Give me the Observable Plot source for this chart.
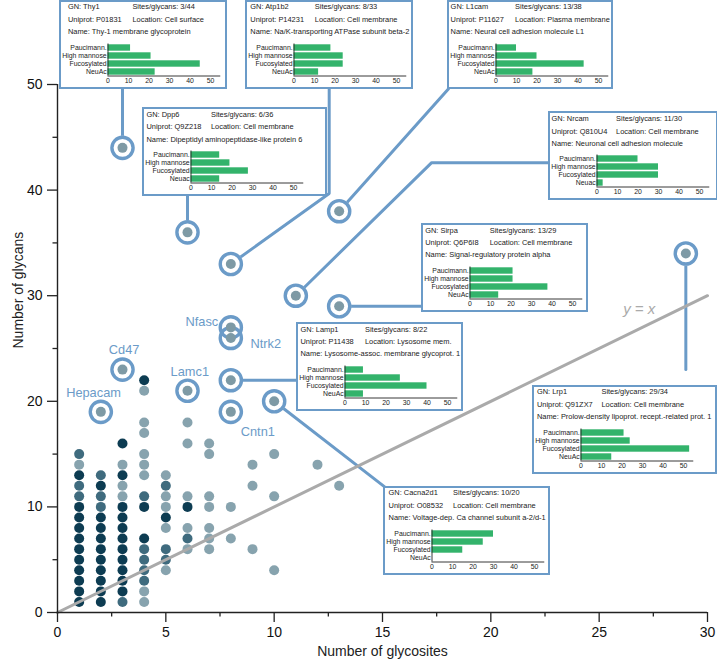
<!DOCTYPE html>
<html><head><meta charset="utf-8">
<script src="https://cdn.jsdelivr.net/npm/d3@7"></script>
<script src="https://cdn.jsdelivr.net/npm/@observablehq/plot@0.6"></script>
<style>
body{margin:0;background:#fff;font-family:"Liberation Sans",Arial,sans-serif;}
#wrap{position:relative;width:717px;height:665px;overflow:hidden;}
.inset{position:absolute;background:#fff;border:2px solid #6b9bc8;box-sizing:border-box;}
.inset .t{position:absolute;font-size:7.45px;color:#222;white-space:nowrap;line-height:1;}
.inset svg{position:absolute;overflow:visible;max-width:none !important;}
</style></head><body><div id="wrap"></div><script>
// ---------- DATA ----------
// background proteins: columns of glycosite count, with glycan counts and density shade (1 light .. 3 dark)
const glycositeColumns = [1, 2, 3, 4, 5, 6, 7, 8, 9, 10, 12, 13];
const glycanCounts = [
  [1,2,3,4,5,6,7,8,9,10,11,12,13,14,15],
  [1,2,3,4,5,6,7,8,9,10,11,12,13],
  [1,2,3,4,5,6,7,8,9,10,11,12,13,14,16],
  [1,2,3,4,5,6,7,10,11,13,14,15,17,18,21,22],
  [4,5,6,8,9,10,11,12,13],
  [6,7,8,10,11,16,18],
  [6,7,8,10,11,15,16],
  [7,10],
  [6,12,14],
  [4,11,15],
  [14],
  [12]
];
const densityShades = [
  [3,3,3,3,3,3,3,3,3,3,2,2,3,1,2],
  [3,3,3,3,3,3,3,3,3,2,2,3,2],
  [2,3,3,3,3,3,3,3,3,3,1,1,3,1,3],
  [1,1,2,2,2,2,3,3,2,1,1,1,1,1,1,3],
  [1,2,2,1,3,1,1,2,1],
  [1,2,1,3,1,1,1],
  [1,1,1,1,1,1,1],
  [1,1],
  [1,1,1],
  [1,1,1],
  [1],
  [1]
];
// highlighted proteins
const geneNames   = ["Thy1","Atp1b2","L1cam","Dpp6","Nrcam","Sirpa","Lamp1","Lrp1","Cacna2d1","Nfasc","Ntrk2","Cd47","Hepacam","Lamc1","Cntn1"];
const geneSites   = [3, 8, 13, 6, 11, 13, 8, 29, 10, 8, 8, 3, 2, 6, 8];
const geneGlycans = [44, 33, 38, 36, 30, 29, 22, 34, 20, 27, 26, 23, 19, 21, 19];
// inset details (first nine genes)
const uniprotIds = ["P01831","P14231","P11627"," Q9Z218","Q810U4","Q6P6I8","P11438","Q91ZX7","O08532"];
const locations = ["Cell surface","Cell membrane","Plasma membrane","Cell membrane","Cell membrane","Cell membrane","Lysosome mem.","Cell membrane","Cell membrane"];
const proteinNames = [
  "Thy-1 membrane glycoprotein",
  "Na/K-transporting ATPase subunit beta-2",
  "Neural cell adhesion molecule L1",
  "Dipeptidyl aminopeptidase-like protein 6",
  "Neuronal cell adhesion molecule",
  "Signal-regulatory protein alpha",
  "Lysosome-assoc. membrane glycoprot. 1",
  "Prolow-density lipoprot. recept.-related prot. 1",
  "Voltage-dep. Ca channel subunit a-2/d-1"
];
const glycanTypes = ["Paucimann.","High mannose","Fucosylated","NeuAc"];
const sialicLabel = ["NeuAc","NeuAc","NeuAc","Neuac","Neuac","NeuAc","NeuAc","NeuAc","NeuAc"];
const paucimannose = [11, 18, 10, 14, 20, 21, 9, 21, 30];
const highMannose  = [21, 24, 20, 19, 30, 21, 27, 24, 25];
const fucosylated  = [45, 24, 43, 28, 30, 38, 40, 53, 15];
const neuAc        = [23, 12, 18, 14, 3, 14, 9, 15, 0];
const xTicks = [0, 5, 10, 15, 20, 25, 30];
const yTicks = [0, 10, 20, 30, 40, 50];
const miniTicks = [0, 10, 20, 30, 40, 50];

// ---------- LAYOUT (annotation placement, data units for anchors) ----------
const ringColor = "#6b9bc8";
const shadeColor = {1: "#87a3ae", 2: "#3f6b7e", 3: "#0d3c52"};
const insetLayout = [ // left, top in data units; width px; text indent px
  {x: 0.07,  y: 58.0, w: 168, ind: 9.4},
  {x: 8.69,  y: 58.0, w: 168, ind: 5},
  {x: 18.0,  y: 58.0, w: 166, ind: 3.6},
  {x: 3.92,  y: 47.8, w: 185, ind: 4.5},
  {x: 22.64, y: 47.4, w: 170, ind: 4},
  {x: 16.81, y: 36.84, w: 167, ind: 4},
  {x: 11.03, y: 27.46, w: 167, ind: 4.5},
  {x: 21.92, y: 21.52, w: 185, ind: 5},
  {x: 15.05, y: 11.96, w: 167, ind: 5.5}
];
const connectors = [
  [[3,44],[3,51]],
  [[8,33],[12.54,39.68],[12.54,51]],
  [[13,38],[18.05,49.6]],
  [[6,36],[6,43]],
  [[11,30],[17.27,42.6],[23.5,42.6]],
  [[13,29],[17.5,29]],
  [[8,22],[11.5,22]],
  [[29,34],[29,23]],
  [[10,20],[15.1,11.9]]
];
const labelOffsets = { // gene label placement around its ring (px)
  Nfasc: {dx: -29, dy: -5}, Ntrk2: {dx: 35, dy: 6}, Cd47: {dx: 1.6, dy: -20},
  Hepacam: {dx: -7.3, dy: -19.3}, Lamc1: {dx: 2.3, dy: -19}, Cntn1: {dx: 27, dy: 20}
};

// ---------- BUILD ----------
const background = glycositeColumns.flatMap((s, i) =>
  glycanCounts[i].map((g, j) => ({sites: s, glycans: g, shade: densityShades[i][j]})));
const genes = geneNames.map((n, i) => ({name: n, sites: geneSites[i], glycans: geneGlycans[i]}));
const connectorRows = connectors.flatMap((path, k) => path.map(([x, y]) => ({k, x, y})));
const font = "Liberation Sans, Arial, sans-serif";

const labelMarks = Object.entries(labelOffsets).map(([name, o]) =>
  Plot.text(genes.filter(d => d.name === name), {
    x: "sites", y: "glycans", text: "name", dx: o.dx, dy: o.dy,
    fill: ringColor, fontSize: 12.8, textAnchor: "middle"
  }));

const main = Plot.plot({
  width: 717, height: 665,
  marginLeft: 57, marginRight: 10, marginTop: 84, marginBottom: 53,
  x: {domain: [0, 30]},
  y: {domain: [0, 50]},
  style: {fontFamily: font, fontSize: "14px", color: "#111", background: "transparent", overflow: "visible"},
  marks: [
    Plot.line(connectorRows, {x: "x", y: "y", z: "k", stroke: ringColor, strokeWidth: 3, strokeLinejoin: "miter"}),
    Plot.dot(genes, {x: "sites", y: "glycans", r: 12, fill: "white"}),
    Plot.dot(genes, {x: "sites", y: "glycans", r: 10.6, stroke: ringColor, strokeWidth: 3.4, fill: "none"}),
    Plot.dot(background, {x: "sites", y: "glycans", r: 5, fill: d => shadeColor[d.shade]}),
    Plot.dot(genes, {x: "sites", y: "glycans", r: 5, fill: "#7e9aa5"}),
    Plot.line([{x: 0, y: 0}, {x: 30, y: 30}], {x: "x", y: "y", stroke: "#aaaaaa", strokeWidth: 3}),
    Plot.text([{x: 26.85, y: 28.7, t: "y = x"}], {x: "x", y: "y", text: "t", fill: "#aaaaaa", fontSize: 15, fontStyle: "italic"}),
    ...labelMarks,
    Plot.ruleY([0], {x1: 0, x2: 30, stroke: "#222", strokeWidth: 1.4}),
    Plot.ruleX([0], {y1: 0, y2: 50, stroke: "#222", strokeWidth: 1.4}),
    Plot.axisX({ticks: xTicks, tickSize: 10, tickPadding: 5, label: null, strokeWidth: 1.3, stroke: "#222"}),
    Plot.axisX({ticks: xTicks.slice(0, -1).map(t => t + 2.5), tickSize: 4.5, tickFormat: () => "", label: null, strokeWidth: 1.3, stroke: "#222"}),
    Plot.axisY({ticks: yTicks, tickSize: 10, tickPadding: 5, label: null, strokeWidth: 1.3, stroke: "#222"}),
    Plot.axisY({ticks: yTicks.slice(0, -1).map(t => t + 5), tickSize: 4.5, tickFormat: () => "", label: null, strokeWidth: 1.3, stroke: "#222"}),
    Plot.text(["Number of glycosites"], {frameAnchor: "bottom", dy: 43, fontSize: 14, fill: "#222"}),
    Plot.text(["Number of glycans"], {frameAnchor: "left", dx: -39, rotate: -90, fontSize: 14, fill: "#222"})
  ]
});
const wrap = document.getElementById("wrap");
wrap.appendChild(main);
const sx = main.scale("x"), sy = main.scale("y");

function miniPlot(i) {
  const vals = [paucimannose[i], highMannose[i], fucosylated[i], neuAc[i]];
  const labels = [glycanTypes[0], glycanTypes[1], glycanTypes[2], sialicLabel[i]];
  const rows = vals.map((v, j) => ({j, v}));
  const W = 172, left = 48.5, per = 2.05;
  return Plot.plot({
    width: W, height: 46,
    marginLeft: left, marginRight: W - left - 55 * per, marginTop: 2.5, marginBottom: 11.5,
    x: {domain: [0, 55]},
    y: {domain: [0, 4], reverse: true},
    style: {fontFamily: font, fontSize: "6.9px", color: "#222", background: "transparent", overflow: "visible", maxWidth: "none"},
    marks: [
      Plot.rectX(rows, {x1: 0, x2: "v", y1: d => d.j + 0.1, y2: d => d.j + 0.9, fill: "#33b36b"}),
      Plot.ruleX([0], {y1: 0, y2: 4, stroke: "#222", strokeWidth: 0.9}),
      Plot.ruleY([4], {x1: 0, x2: 55, stroke: "#222", strokeWidth: 0.9}),
      Plot.axisX({ticks: miniTicks, tickSize: 0, tickPadding: 2.5, label: null}),
      Plot.axisY({ticks: [0.5, 1.5, 2.5, 3.5], tickFormat: t => labels[Math.floor(t)], tickSize: 0, tickPadding: 1.3, label: null})
    ]
  });
}

insetLayout.forEach((L, i) => {
  const box = document.createElement("div");
  box.className = "inset";
  box.style.left = sx.apply(L.x) + "px";
  box.style.top = sy.apply(L.y) + "px";
  box.style.width = L.w + "px";
  box.style.height = "89px";
  const B = 2;
  const lines = [
    [["GN: " + geneNames[i], 0], ["Sites/glycans: " + geneSites[i] + "/" + geneGlycans[i], 64.5]],
    [["Uniprot: " + uniprotIds[i], 0], ["Location: " + locations[i], 64.5]],
    [["Name: " + proteinNames[i], 0]]
  ];
  const centers = [7.6, 20, 32.3];
  lines.forEach((row, r) => row.forEach(([txt, off]) => {
    const t = document.createElement("div");
    t.className = "t";
    t.textContent = txt;
    t.style.left = (L.ind + off - B) + "px";
    t.style.top = (centers[r] - 3.9 - B) + "px";
    box.appendChild(t);
  }));
  const svg = miniPlot(i);
  svg.style.left = (-B) + "px";
  svg.style.top = (41 - B) + "px";
  svg.style.maxWidth = "none";
  box.appendChild(svg);
  wrap.appendChild(box);
});
</script></body></html>
